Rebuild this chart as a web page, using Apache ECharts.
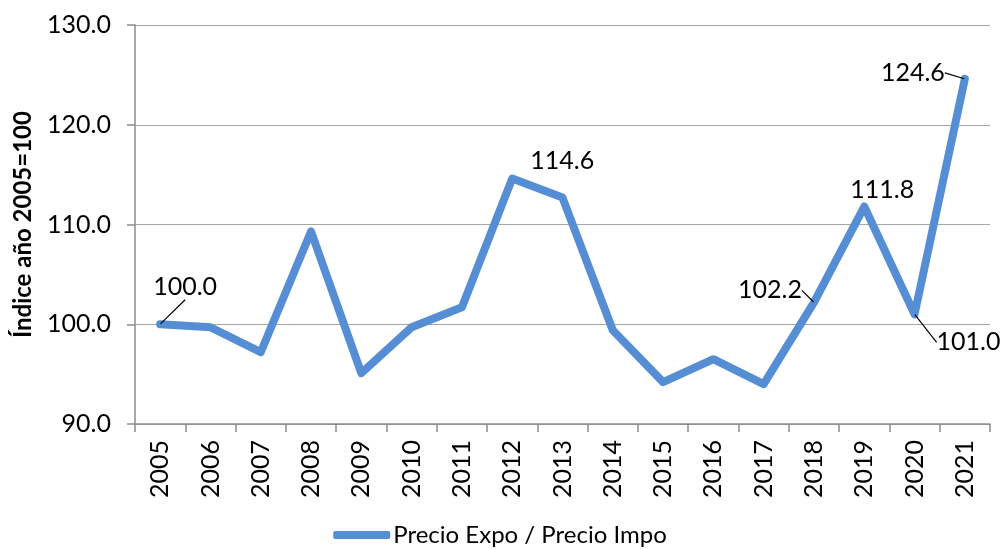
<!DOCTYPE html>
<html>
<head>
<meta charset="utf-8">
<script src="https://cdn.jsdelivr.net/npm/echarts@6/dist/echarts.min.js"></script>
<style>
  html, body { margin: 0; padding: 0; background: #fff; }
  #chart { width: 1000px; height: 550px; }
</style>
</head>
<body>
<div id="chart"></div>
<script>
const years = ['2005', '2006', '2007', '2008', '2009', '2010', '2011', '2012', '2013',
  '2014', '2015', '2016', '2017', '2018', '2019', '2020', '2021'];
const ratio = [100.0, 99.7, 97.2, 109.3, 95.1, 99.7, 101.7, 114.6, 112.7,
  99.4, 94.2, 96.5, 94.0, 102.2, 111.8, 101.0, 124.6];
const labelledYears = ['2005', '2012', '2018', '2019', '2020', '2021'];
const leaderYears = ['2005', '2018', '2020', '2021'];
const yTicks = { min: 90, max: 130, step: 10 };
const seriesName = 'Precio Expo / Precio Impo';
const yName = 'Índice año 2005=100';

// label offsets (px) from each point, like the hand-placed labels in the original
const labelShift = {
  '2005': [25, -37],
  '2012': [50, -18],
  '2018': [-44, -12],
  '2019': [18, -17],
  '2020': [54, 28],
  '2021': [-52, -6],
};

const font = 'Lato, "Liberation Sans", sans-serif';
const chart = echarts.init(document.getElementById('chart'), null, { renderer: 'canvas' });

chart.setOption({
  animation: false,
  textStyle: { fontFamily: font },
  grid: { left: 135, right: 10, top: 25, bottom: 126 },
  legend: {
    bottom: -2,
    left: 'center',
    itemWidth: 57,
    itemHeight: 8,
    itemGap: 10,
    icon: 'roundRect',
    textStyle: { fontSize: 24, color: '#000', fontFamily: font, padding: [0, 0, 0, -2] },
    data: [seriesName],
  },
  xAxis: {
    type: 'category',
    data: years,
    boundaryGap: true,
    axisLine: { lineStyle: { color: '#8c8c8c', width: 1.5 } },
    axisTick: { show: true, length: 8, lineStyle: { color: '#8c8c8c', width: 1.5 } },
    axisLabel: { rotate: 90, fontSize: 25, color: '#000', margin: 16, interval: 0 },
  },
  yAxis: {
    type: 'value',
    min: yTicks.min,
    max: yTicks.max,
    interval: yTicks.step,
    name: yName,
    nameLocation: 'middle',
    nameGap: 100,
    nameTextStyle: { fontSize: 24, fontWeight: 'bold', color: '#000', fontFamily: font },
    axisLine: { show: true, lineStyle: { color: '#8c8c8c', width: 1.5 } },
    axisTick: { show: true, length: 8, lineStyle: { color: '#8c8c8c', width: 1.5 } },
    axisLabel: { fontSize: 25, color: '#000', margin: 24, formatter: (v) => v.toFixed(1) },
    splitLine: { lineStyle: { color: '#a6a6a6', width: 1.2 } },
  },
  series: [
    {
      name: seriesName,
      type: 'line',
      symbol: 'circle',
      symbolSize: 1,
      showSymbol: true,
      itemStyle: { color: '#558ed5' },
      lineStyle: { width: 8, color: '#558ed5', join: 'round', cap: 'round' },
      data: ratio.map((v, i) => ({
        value: v,
        label: {
          show: labelledYears.includes(years[i]),
          position: 'inside',
          fontSize: 25,
          color: '#000',
          fontFamily: font,
          formatter: (p) => p.value.toFixed(1),
        },
        labelLine: { show: leaderYears.includes(years[i]) },
      })),
      labelLayout: (params) => {
        const s = labelShift[years[params.dataIndex]];
        return s ? { dx: s[0], dy: s[1] } : {};
      },
      labelLine: {
        show: true,
        lineStyle: { color: '#000', width: 1.2 },
      },
    },
  ],
});
</script>
</body>
</html>
